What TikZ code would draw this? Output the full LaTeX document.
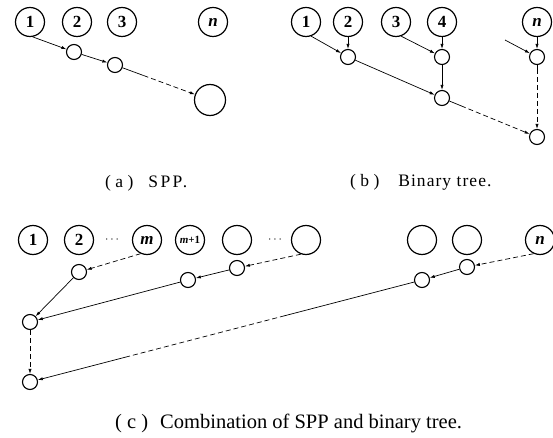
\documentclass[tikz,border=0pt]{standalone}
\usepackage{fontspec}
\setmainfont{Liberation Serif}
\usetikzlibrary{arrows.meta,calc}
\begin{document}
\begin{tikzpicture}[x=1pt,y=-1pt,
  big/.style={circle,draw,line width=1.2pt,minimum size=29pt,inner sep=0pt,font=\fontsize{17}{17}\selectfont\bfseries},
  bigger/.style={circle,draw,line width=1.2pt,minimum size=31pt,inner sep=0pt},
  sm/.style={circle,draw,line width=1.1pt,minimum size=15pt,inner sep=0pt},
  arr/.style={line width=0.7pt,-{Latex[length=5pt,width=3.2pt]}},
  ln/.style={line width=0.7pt},
  dsh/.style={dash pattern=on 5pt off 3pt},
  captxt/.style={anchor=base west,inner sep=0pt,font=\fontsize{17.5}{19}\selectfont}]
\useasboundingbox (0,0) rectangle (553,438);
% ---------- (a) ----------
\node[big] (A1) at (30,22) {1};
\node[big] (A2) at (77,22) {2};
\node[big] (A3) at (122,22) {3};
\node[big] (An) at (213,22) {\itshape n};
\node[sm] (a1) at (74,52) {};
\node[sm] (a2) at (115,65) {};
\node[bigger] (aE) at (210,100) {};
\draw[arr] (A1.-80) -- (a1);
\draw[arr] (a1) -- (a2);
\coordinate (am) at ($(a2)!0.3!(aE)$);
\draw[ln] (a2) -- (am);
\draw[arr,dsh] (am) -- (aE);
\node[captxt] (capa) at (105,188) {( a )\hspace{15pt}{\addfontfeature{LetterSpace=14}SPP.}};
% ---------- (b) ----------
\node[big] (B1) at (306,22) {1};
\node[big] (B2) at (348,22) {2};
\node[big] (B3) at (396,22) {3};
\node[big] (B4) at (442,22) {4};
\node[big] (Bn) at (537,22) {\itshape n};
\node[sm] (b1) at (348,57) {};
\node[sm] (b2) at (442,57) {};
\node[sm] (bn) at (537,57) {};
\node[sm] (b3) at (442,98) {};
\node[sm] (b4) at (537,137) {};
\coordinate (bf) at (505,40);
\draw[arr] (B1.-70) -- (b1);
\draw[arr] (B2) -- (b1);
\draw[arr] (B3.-70) -- (b2);
\draw[arr] (B4) -- (b2);
\draw[arr] (bf) -- (bn);
\draw[arr] (Bn) -- (bn);
\draw[arr] (b1) -- (b3);
\draw[arr] (b2) -- (b3);
\coordinate (bm) at ($(b3)!0.2!(b4)$);
\draw[ln] (b3) -- (bm);
\draw[arr,dsh] (bm) -- (b4);
\coordinate (bm2) at ($(bn)!0.15!(b4)$);
\draw[ln] (bn) -- (bm2);
\draw[arr,dsh] (bm2) -- (b4);
\node[captxt] (capb) at (350,186) {( b )\hspace{19pt}{\addfontfeature{LetterSpace=6}Binary tree.}};
% ---------- (c) ----------
\node[big] (C1) at (33,240) {1};
\node[big] (C2) at (79,240) {2};
\node (d1) at (112,240) {\fontsize{12}{12}\selectfont$\cdots$};
\node[big] (Cm) at (147,240) {\itshape m};
\node[big,font=\fontsize{11}{11}\selectfont\bfseries] (Cm1) at (190,240) {\itshape m\upshape +1};
\node[big] (Ce1) at (237,240) {};
\node (d2) at (275,240) {\fontsize{12}{12}\selectfont$\cdots$};
\node[big] (Ce2) at (306,240) {};
\node[big] (Ce3) at (422,240) {};
\node[big] (Ce4) at (467,240) {};
\node[big] (Cn) at (540,240) {\itshape n};
\node[sm] (c1) at (79,272) {};
\node[sm] (c2) at (188,280) {};
\node[sm] (c3) at (237,268) {};
\node[sm] (c4) at (422,280) {};
\node[sm] (c5) at (467,267) {};
\node[sm] (L1) at (30,322) {};
\node[sm] (L2) at (30,382) {};
\draw[arr,dsh] (Cm.-115) -- (c1);
\draw[arr] (c1) -- (L1);
\draw[arr] (c2) -- (L1);
\draw[arr] (c3) -- (c2);
\draw[arr,dsh] (Ce2.-110) -- (c3);
\draw[arr] (c5) -- (c4);
\draw[arr,dsh] (Cn.-115) -- (c5);
\draw[arr,dsh] (L1) -- (L2);
\coordinate (cm1) at ($(c4)!0.35!(L2)$);
\coordinate (cm2) at ($(c4)!0.745!(L2)$);
\draw[ln] (c4) -- (cm1);
\draw[ln,dsh] (cm1) -- (cm2);
\draw[arr] (cm2) -- (L2);
\node[captxt,font=\fontsize{20.5}{22}\selectfont] (capc) at (115,428) {( c )\hspace{12pt}Combination of SPP and binary tree.};
\end{tikzpicture}
\end{document}
